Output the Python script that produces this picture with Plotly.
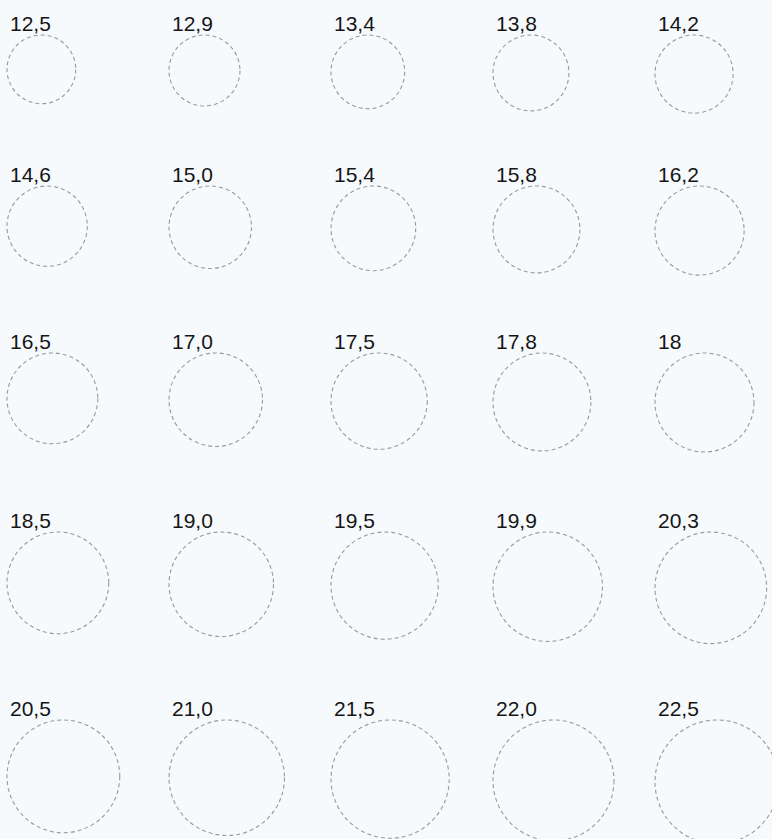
import plotly.graph_objects as go

# Ring sizes (inner diameter in mm), row by row
row1 = [12.5, 12.9, 13.4, 13.8, 14.2]
row2 = [14.6, 15.0, 15.4, 15.8, 16.2]
row3 = [16.5, 17.0, 17.5, 17.8, 18.0]
row4 = [18.5, 19.0, 19.5, 19.9, 20.3]
row5 = [20.5, 21.0, 21.5, 22.0, 22.5]

labels1 = ["12,5", "12,9", "13,4", "13,8", "14,2"]
labels2 = ["14,6", "15,0", "15,4", "15,8", "16,2"]
labels3 = ["16,5", "17,0", "17,5", "17,8", "18"]
labels4 = ["18,5", "19,0", "19,5", "19,9", "20,3"]
labels5 = ["20,5", "21,0", "21,5", "22,0", "22,5"]

rows = [row1, row2, row3, row4, row5]
labels = [labels1, labels2, labels3, labels4, labels5]

# Layout (pixels)
W, H = 772, 839
PX_PER_MM = 5.5
BG = "#f6fafd"
col_left = [7, 169, 331, 493, 655]
row_top = [35, 186, 353, 532, 720]

fig = go.Figure()
shapes = []
annotations = []
for r, (vals, labs) in enumerate(zip(rows, labels)):
    for c, (d, lab) in enumerate(zip(vals, labs)):
        size = d * PX_PER_MM
        x0 = col_left[c]
        y0 = row_top[r]
        shapes.append(dict(
            type="circle", xref="x", yref="y",
            x0=x0, x1=x0 + size, y0=y0, y1=y0 + size,
            line=dict(color="#999999", width=1.1, dash="4px,3px"),
            fillcolor="rgba(0,0,0,0)",
        ))
        annotations.append(dict(
            x=x0 + 1, y=y0 - 11.5, xref="x", yref="y",
            text=lab, showarrow=False, xanchor="left", yanchor="middle",
            font=dict(family="Liberation Sans, Arial, sans-serif", size=21, color="#151515"),
        ))

# invisible trace to establish axes
fig.add_trace(go.Scatter(x=[0, W], y=[0, H], mode="markers",
                         marker=dict(opacity=0), hoverinfo="skip", showlegend=False))

fig.update_layout(
    width=W, height=H,
    margin=dict(l=0, r=0, t=0, b=0),
    paper_bgcolor=BG, plot_bgcolor=BG,
    shapes=shapes, annotations=annotations,
    xaxis=dict(range=[0, W], visible=False, fixedrange=True),
    yaxis=dict(range=[H, 0], visible=False, fixedrange=True),
    showlegend=False,
)

fig.write_html(
    "out.html",
    config={"displayModeBar": False},
    post_script="document.body.style.margin='0';document.body.style.padding='0';"
                "document.body.style.background='" + BG + "';"
                "document.documentElement.style.background='" + BG + "';"
                "document.body.style.overflow='hidden';",
)
